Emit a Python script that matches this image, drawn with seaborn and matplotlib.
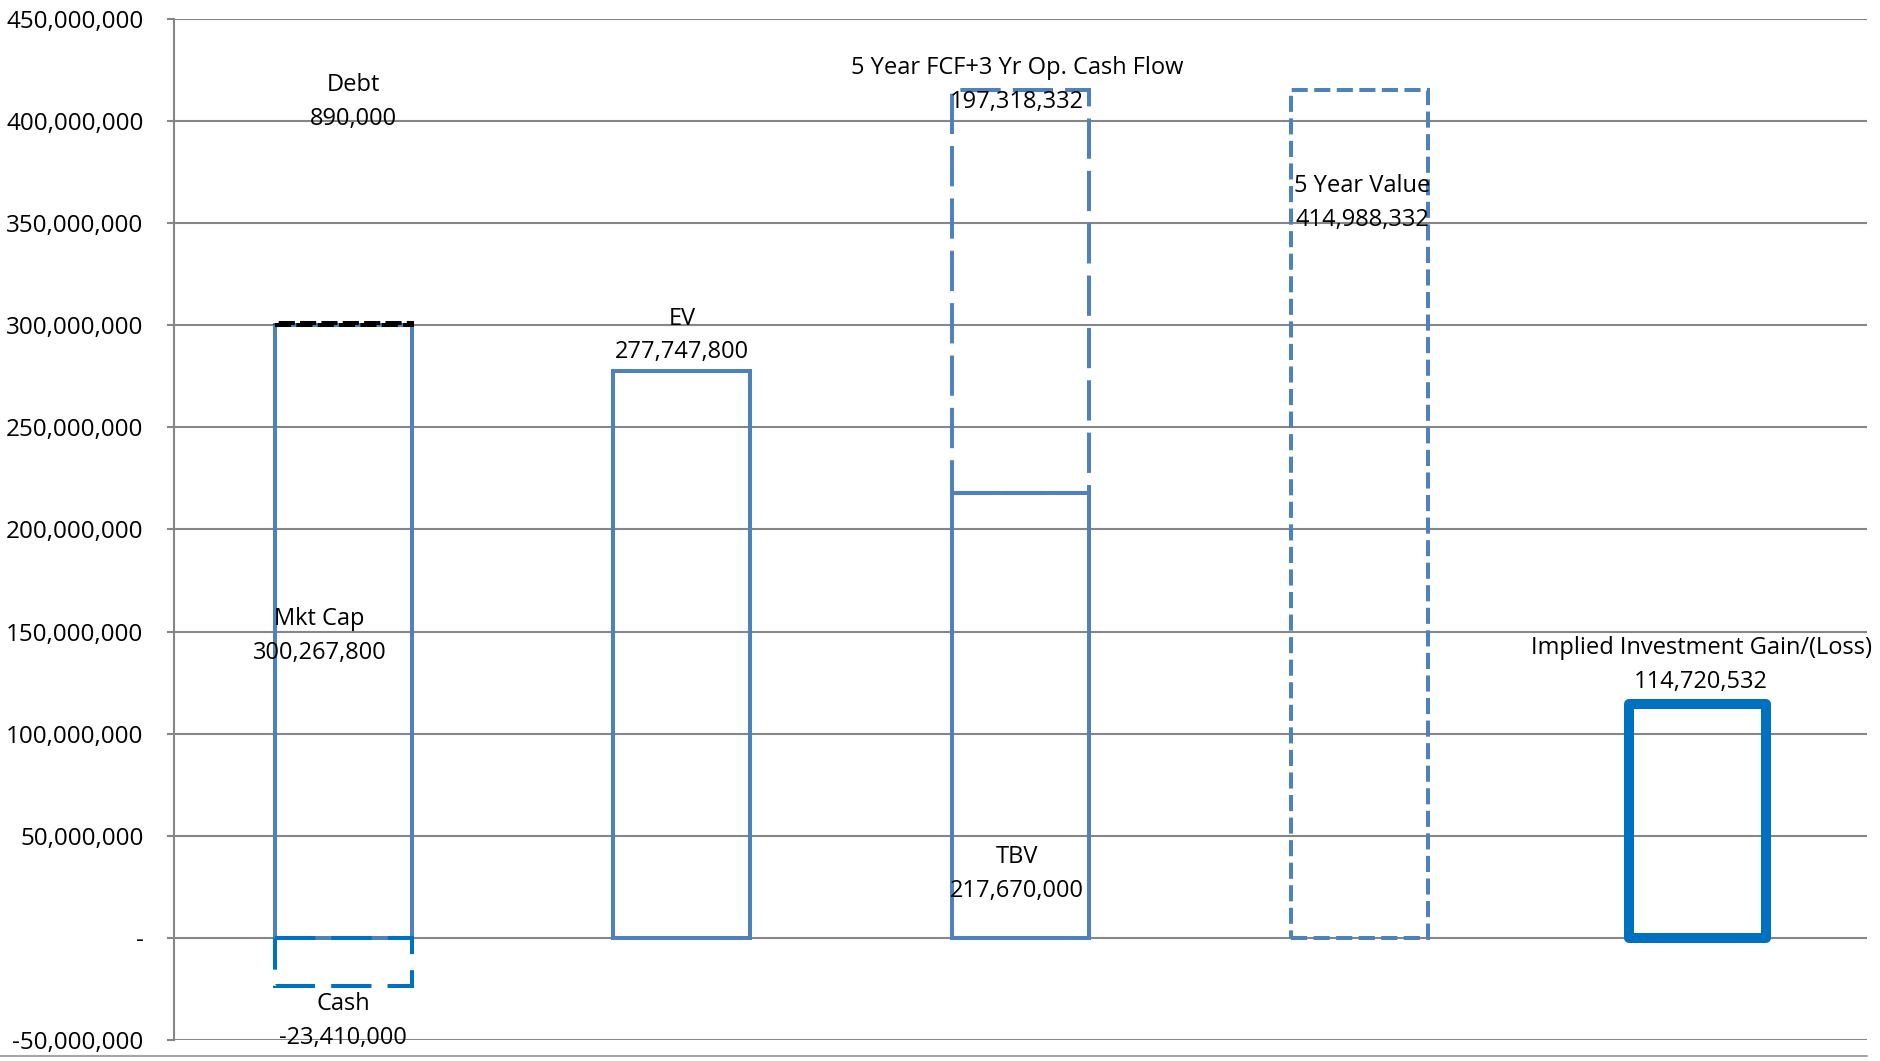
import matplotlib
matplotlib.use("Agg")
import matplotlib.pyplot as plt
from matplotlib.ticker import FuncFormatter, MultipleLocator
from matplotlib.lines import Line2D
import seaborn as sns

# Chart values
categories = ["Mkt Cap", "EV", "TBV", "5 Year Value", "Implied Investment Gain/(Loss)"]
main_values = [300267800, 277747800, 217670000, 414988332, 114720532]
debt = 890000
cash = -23410000
fcf = 197318332

# data labels: (text name, value)
label_names = ["Debt", "Mkt Cap", "Cash", "EV", "5 Year FCF+3 Yr Op. Cash Flow",
               "TBV", "5 Year Value", "Implied Investment Gain/(Loss)"]
label_values = [debt, main_values[0], cash, main_values[1], fcf,
                main_values[2], main_values[3], main_values[4]]
# label positions (x in category units, y in data units)
label_pos = [(0.03, 409.5e6), (-0.07, 148e6), (0.0, -40.5e6), (1.0, 295e6), (1.99, 417.5e6),
             (1.99, 31.5e6), (3.01, 360e6), (4.01, 133.5e6)]

blue = "#4F81BD"
dark_blue = "#0070C0"
lw = 2.9
bar_w = 0.405

sns.set_theme(style="white")
plt.rcParams["font.family"] = ["Open Sans", "DejaVu Sans"]

fig = plt.figure(figsize=(18.81, 10.61), dpi=100)
ax = fig.add_axes([0.0925, 0.0198, 0.9001, 0.9623])


def draw(cat, value, bottom, color, ls, width):
    n = len(ax.patches)
    sns.barplot(x=[cat], y=[value], order=categories, ax=ax, fill=False,
                width=bar_w, errorbar=None, bottom=bottom)
    for p in ax.patches[n:]:
        p.set_facecolor("none")
        p.set_edgecolor(color)
        p.set_linewidth(width)
        p.set_linestyle(ls)
        p.set_joinstyle("round" if width > 5 else "miter")
        p.set_zorder(3)


# main bars
draw(categories[0], main_values[0], 0, blue, "-", lw)
draw(categories[1], main_values[1], 0, blue, "-", lw)
draw(categories[2], main_values[2], 0, blue, "-", lw)
draw(categories[3], main_values[3], 0, blue, (0, (4, 1.6)), lw)
draw(categories[4], main_values[4], 0, dark_blue, "-", 7.2)

# stacked / offset pieces
draw(categories[0], cash, 0, dark_blue, (0, (10, 4)), lw)
draw(categories[0], debt, main_values[0], "black", (0, (4, 1.3)), lw)
draw(categories[2], fcf, main_values[2], blue, (0, (10, 3)), lw)

for name, val, (x, y) in zip(label_names, label_values, label_pos):
    ax.text(x, y, f"{name}\n{val:,}", ha="center", va="center", fontsize=17,
            color="black", linespacing=1.55, zorder=5)

ax.set_xlim(-0.5, 4.5)
ax.set_ylim(-50e6, 450e6)
ax.yaxis.set_major_locator(MultipleLocator(50e6))
ax.yaxis.set_major_formatter(FuncFormatter(lambda v, p: "-" if abs(v) < 1 else f"{v:,.0f}"))
ax.set_xticks([])
ax.set_xlabel("")
ax.set_ylabel("")
ax.yaxis.grid(True, color="#868686", linewidth=1.5)
ax.set_axisbelow(True)
for s in ["top", "right", "bottom"]:
    ax.spines[s].set_visible(False)
ax.spines["left"].set_color("#868686")
ax.spines["left"].set_linewidth(1.5)
ax.tick_params(axis="y", left=True, length=5, width=1.5, color="#868686",
               pad=17, labelsize=17.5, labelcolor="black")

fig.add_artist(Line2D([0, 0.9926], [1 - 1056 / 1061] * 2, color="#a6a6a6", linewidth=1.5))

fig.savefig("out.png", dpi=100)
